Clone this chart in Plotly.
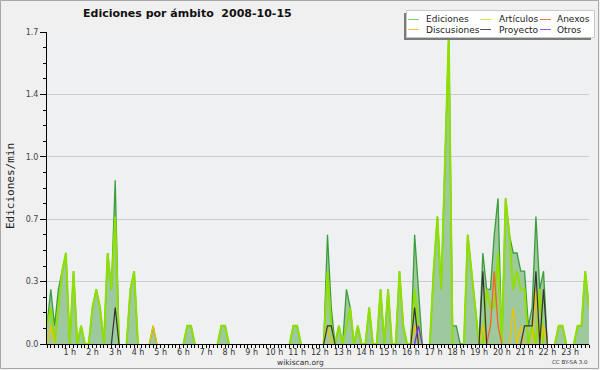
import plotly.graph_objects as go

# ---------------- data (10-minute bins, edits per minute) ----------------
ediciones = [
    0.1, 0.3, 0.1, 0.3, 0.4, 0.5, 0.0, 0.4, 0.0, 0.1, 0.0, 0.0,
    0.2, 0.3, 0.2, 0.0, 0.5, 0.3, 0.9, 0.0, 0.0, 0.0, 0.3, 0.4,
    0.0, 0.0, 0.0, 0.0, 0.1, 0.0, 0.0, 0.0, 0.0, 0.0, 0.0, 0.0,
    0.0, 0.1, 0.1, 0.0, 0.0, 0.0, 0.0, 0.0, 0.0, 0.0, 0.1, 0.1,
    0.0, 0.0, 0.0, 0.0, 0.0, 0.0, 0.0, 0.0, 0.0, 0.0, 0.0, 0.0,
    0.0, 0.0, 0.0, 0.0, 0.0, 0.1, 0.1, 0.0, 0.0, 0.0, 0.0, 0.0,
    0.0, 0.0, 0.6, 0.2, 0.0, 0.1, 0.0, 0.3, 0.2, 0.0, 0.1, 0.0,
    0.0, 0.2, 0.0, 0.0, 0.3, 0.0, 0.3, 0.0, 0.0, 0.4, 0.1, 0.0,
    0.0, 0.6, 0.3, 0.0, 0.0, 0.0, 0.4, 0.7, 0.3, 1.0, 1.7, 0.1,
    0.1, 0.0, 0.0, 0.6, 0.4, 0.2, 0.0, 0.5, 0.3, 0.3, 0.6, 0.8,
    0.0, 0.8, 0.6, 0.5, 0.5, 0.4, 0.4, 0.1, 0.2, 0.7, 0.3, 0.4,
    0.0, 0.0, 0.0, 0.1, 0.1, 0.0, 0.0, 0.0, 0.1, 0.1, 0.4, 0.2,
]
articulos = [
    0.1, 0.2, 0.0, 0.2, 0.4, 0.5, 0.0, 0.4, 0.0, 0.1, 0.0, 0.0,
    0.2, 0.3, 0.2, 0.0, 0.5, 0.3, 0.7, 0.0, 0.0, 0.0, 0.3, 0.4,
    0.0, 0.0, 0.0, 0.0, 0.0, 0.0, 0.0, 0.0, 0.0, 0.0, 0.0, 0.0,
    0.0, 0.1, 0.1, 0.0, 0.0, 0.0, 0.0, 0.0, 0.0, 0.0, 0.1, 0.1,
    0.0, 0.0, 0.0, 0.0, 0.0, 0.0, 0.0, 0.0, 0.0, 0.0, 0.0, 0.0,
    0.0, 0.0, 0.0, 0.0, 0.0, 0.1, 0.1, 0.0, 0.0, 0.0, 0.0, 0.0,
    0.0, 0.0, 0.4, 0.1, 0.0, 0.1, 0.0, 0.1, 0.2, 0.0, 0.1, 0.0,
    0.0, 0.2, 0.0, 0.0, 0.3, 0.0, 0.3, 0.0, 0.0, 0.4, 0.1, 0.0,
    0.0, 0.3, 0.1, 0.0, 0.0, 0.0, 0.4, 0.7, 0.3, 1.0, 1.7, 0.0,
    0.0, 0.0, 0.0, 0.6, 0.4, 0.2, 0.0, 0.0, 0.3, 0.2, 0.2, 0.5,
    0.0, 0.8, 0.6, 0.3, 0.4, 0.3, 0.3, 0.0, 0.1, 0.0, 0.3, 0.0,
    0.0, 0.0, 0.0, 0.1, 0.1, 0.0, 0.0, 0.0, 0.1, 0.1, 0.4, 0.2,
]
# sparse series: {bin index: value}
anexos_pts = {117: 0.1, 118: 0.4, 119: 0.1}
discusiones_pts = {1: 0.1, 28: 0.1, 74: 0.1, 97: 0.1, 115: 0.1, 123: 0.2, 125: 0.1, 129: 0.3, 131: 0.1}
proyecto_pts = {18: 0.2, 74: 0.1, 75: 0.1, 97: 0.2, 115: 0.4, 126: 0.1, 127: 0.1, 128: 0.1, 129: 0.4, 131: 0.3}
otros_pts = {98: 0.1}

n_bins = 144
bin_hours = [i / 6 for i in range(n_bins)]
hour_ticks = list(range(1, 24))
hour_labels = [f"{h} h" for h in hour_ticks]
y_max = 1.7143
y_tick_labels = ["0.0", "0.3", "0.7", "1.0", "1.4", "1.7"]

series_names = ["Ediciones", "Artículos", "Anexos", "Discusiones", "Proyecto", "Otros"]

# ---------------- styles ----------------
line_colors = {
    "Ediciones": "#3a9e3a",
    "Artículos": "#8fe000",
    "Anexos": "#f2651c",
    "Discusiones": "#f2c200",
    "Proyecto": "#333333",
    "Otros": "#7b2be0",
}
legend_colors = {
    "Ediciones": "#88cc88",
    "Artículos": "#ccee55",
    "Anexos": "#ee7744",
    "Discusiones": "#f5c842",
    "Proyecto": "#555555",
    "Otros": "#9955ee",
}
line_widths = {"Ediciones": 1.3, "Artículos": 2.0, "Anexos": 1.3,
               "Discusiones": 1.3, "Proyecto": 1.2, "Otros": 1.3}


def dense(pts):
    return [pts.get(i, 0.0) for i in range(n_bins)]


def trim(v):
    out = []
    for i, val in enumerate(v):
        prev0 = i == 0 or v[i - 1] == 0
        next0 = i == len(v) - 1 or v[i + 1] == 0
        out.append(None if (val == 0 and prev0 and next0) else val)
    return out


values = {
    "Ediciones": ediciones,
    "Artículos": articulos,
    "Anexos": dense(anexos_pts),
    "Discusiones": dense(discusiones_pts),
    "Proyecto": dense(proyecto_pts),
    "Otros": dense(otros_pts),
}

fig = go.Figure()
fig.add_trace(go.Scatter(x=bin_hours, y=ediciones, mode="lines", fill="tozeroy",
                         fillcolor="#9ec89e", line=dict(width=0), showlegend=False,
                         hoverinfo="skip"))
for name in series_names:
    fig.add_trace(go.Scatter(x=bin_hours, y=trim(values[name]), mode="lines", name=name,
                             line=dict(color=line_colors[name], width=line_widths[name]),
                             connectgaps=False, showlegend=False))

# ---------------- layout ----------------
L, R, T, B = 47, 11, 32, 26
W, H = 600, 370
PW, PH = W - L - R, H - T - B


def px(x):
    return (x - L) / PW


def py(y):
    return (H - B - y) / PH


shapes = []
annotations = []

# frame around the whole image
shapes.append(dict(type="rect", xref="paper", yref="paper", x0=px(0.5), x1=px(598.5),
                   y0=py(368.5), y1=py(0.5), line=dict(color="#a8a8a8", width=1),
                   fillcolor="rgba(0,0,0,0)", layer="below"))

# legend box (shadow + white box)
shapes.append(dict(type="rect", xref="paper", yref="paper", x0=px(404), x1=px(591),
                   y0=py(40), y1=py(13), line=dict(width=0), fillcolor="#7a7a7a"))
shapes.append(dict(type="rect", xref="paper", yref="paper", x0=px(406.5), x1=px(594.5),
                   y0=py(37.5), y1=py(10.5), line=dict(color="#c8c8c8", width=1),
                   fillcolor="#ffffff"))

col_sample_x = [408, 480, 540]
col_text_x = [424, 497, 555]
row_y = [19.5, 29.5]
for k, name in enumerate(series_names):
    r, c = divmod(k, 3)
    yy = py(row_y[r])
    shapes.append(dict(type="line", xref="paper", yref="paper",
                       x0=px(col_sample_x[c]), x1=px(col_sample_x[c] + 11), y0=yy, y1=yy,
                       line=dict(color=legend_colors[name], width=1)))
    annotations.append(dict(text=name, xref="paper", yref="paper", x=px(col_text_x[c]), y=yy,
                            xanchor="left", yanchor="middle", showarrow=False,
                            font=dict(family="DejaVu Sans", size=9, color="#222222")))

annotations.append(dict(text="Ediciones por ámbito\u00a0 2008-10-15", xref="paper", yref="paper",
                        x=px(188), y=py(13), xanchor="center", yanchor="middle", showarrow=False,
                        font=dict(family="DejaVu Sans", size=11, color="#111111", weight="bold")))
annotations.append(dict(text="Ediciones/min", xref="paper", yref="paper", x=px(10), y=py(186),
                        xanchor="center", yanchor="middle", textangle=-90, showarrow=False,
                        font=dict(family="DejaVu Sans Mono", size=11, color="#222222")))
annotations.append(dict(text="wikiscan.org", xref="paper", yref="paper", x=px(300), y=py(362),
                        xanchor="center", yanchor="middle", showarrow=False,
                        font=dict(family="DejaVu Sans", size=7.5, color="#333333")))
annotations.append(dict(text="CC BY-SA 3.0", xref="paper", yref="paper", x=px(590), y=py(362),
                        xanchor="right", yanchor="middle", showarrow=False,
                        font=dict(family="DejaVu Sans", size=5.5, color="#333333")))

fig.update_layout(
    width=W, height=H,
    margin=dict(l=L, r=R, t=T, b=B, pad=0),
    paper_bgcolor="#f0f0f0",
    plot_bgcolor="#eef0f2",
    showlegend=False,
    shapes=shapes,
    annotations=annotations,
    xaxis=dict(range=[0, bin_hours[-1]], tickmode="array", tickvals=hour_ticks,
               ticktext=hour_labels, ticks="outside", ticklen=3, tickwidth=1,
               tickcolor="#000000", showline=True, linecolor="#000000", linewidth=1,
               showgrid=False, zeroline=False, ticklabelstandoff=-3,
               tickfont=dict(family="DejaVu Sans", size=8, color="#333333"),
               minor=dict(dtick=1 / 6, ticks="outside", ticklen=3, tickcolor="#000000",
                          showgrid=False)),
    yaxis=dict(range=[0, y_max], tickmode="array",
               tickvals=[y_max * i / 5 for i in range(6)], ticktext=y_tick_labels,
               ticks="outside", ticklen=6, tickwidth=1, tickcolor="#000000",
               showline=True, linecolor="#000000", linewidth=1,
               showgrid=True, gridcolor="#cccccc", gridwidth=1, zeroline=False,
               tickfont=dict(family="DejaVu Sans", size=8, color="#444444"),
               minor=dict(tickvals=[y_max * i / 20 for i in range(21) if i % 4],
                          ticks="outside", ticklen=3, tickcolor="#000000", showgrid=False)),
)

fig.write_html("out.html", config={"displayModeBar": False},
               post_script="document.body.style.margin='0px';")
